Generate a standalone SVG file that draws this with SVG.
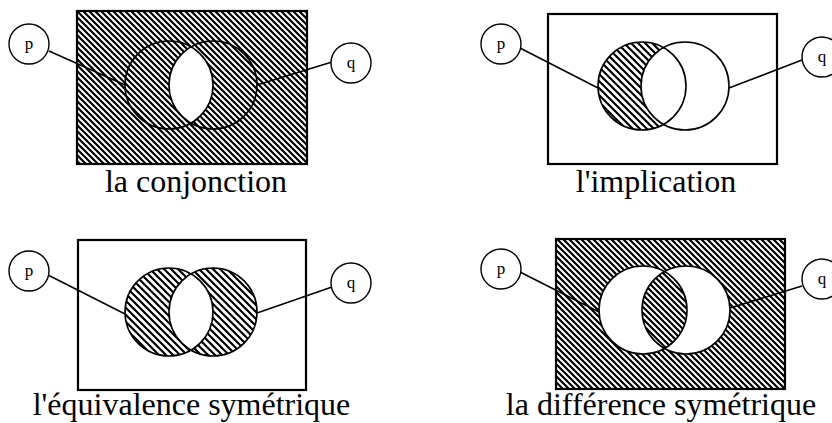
<svg xmlns="http://www.w3.org/2000/svg" width="832" height="423" viewBox="0 0 832 423">
<style>
.frame{stroke:#000;stroke-width:2.2}
.ring{fill:none;stroke:#000;stroke-width:1.6}
.tag{fill:#fff;stroke:#000;stroke-width:1.4}
.conn{stroke:#000;stroke-width:1.5;fill:none}
</style>
<defs>
<pattern id="dense" patternUnits="userSpaceOnUse" width="6" height="6">
<rect width="6" height="6" fill="#fff"/>
<path d="M-1,-1 L7,7 M-1,5 L1,7 M5,-1 L7,1" stroke="#000" stroke-width="2.2"/>
</pattern>
<pattern id="light" patternUnits="userSpaceOnUse" width="7" height="7">
<rect width="7" height="7" fill="#fff"/>
<path d="M-1,-1 L8,8 M-1,6 L1,8 M6,-1 L8,1" stroke="#000" stroke-width="2.2"/>
</pattern>
</defs>

<g id="conjonction">
<rect class="frame" x="77" y="11" width="230" height="153" fill="url(#dense)"/>
<path d="M191,46.9 A44,44 0 0 1 191,123.1 A44,44 0 0 1 191,46.9 Z" fill="#fff"/>
<circle class="ring" cx="169" cy="85" r="44"/>
<circle class="ring" cx="213" cy="85" r="44"/>
<text x="196" y="192" font-family="'Liberation Serif', serif" font-size="32" text-anchor="middle" fill="#000">la conjonction</text>
</g>

<g id="implication">
<rect class="frame" x="548" y="14" width="229" height="150" fill="#fff"/>
<path d="M663.5,47.6 A44,44 0 1 0 663.5,124.4 A44,44 0 0 1 663.5,47.6 Z" fill="url(#light)"/>
<circle class="ring" cx="642" cy="86" r="44"/>
<circle class="ring" cx="685" cy="86" r="44"/>
<text x="656" y="192" font-family="'Liberation Serif', serif" font-size="32" text-anchor="middle" fill="#000">l'implication</text>
</g>

<g id="equivalence">
<rect class="frame" x="78" y="240" width="228" height="150" fill="#fff"/>
<path d="M125,312 a44,44 0 1 0 88,0 a44,44 0 1 0 -88,0 Z M169,312 a44,44 0 1 0 88,0 a44,44 0 1 0 -88,0 Z" fill="url(#light)" fill-rule="evenodd"/>
<circle class="ring" cx="169" cy="312" r="44"/>
<circle class="ring" cx="213" cy="312" r="44"/>
<text x="191.5" y="415" font-family="'Liberation Serif', serif" font-size="32" text-anchor="middle" fill="#000">l'équivalence symétrique</text>
</g>

<g id="difference">
<rect class="frame" x="556" y="239" width="229" height="150" fill="url(#dense)"/>
<circle cx="643" cy="310" r="44" fill="#fff"/>
<circle cx="686" cy="310" r="44" fill="#fff"/>
<path d="M664.5,271.7 A44,44 0 0 1 664.5,348.3 A44,44 0 0 1 664.5,271.7 Z" fill="url(#dense)"/>
<circle class="ring" cx="643" cy="310" r="44"/>
<circle class="ring" cx="686" cy="310" r="44"/>
<text x="661" y="415" font-family="'Liberation Serif', serif" font-size="32" text-anchor="middle" fill="#000">la différence symétrique</text>
</g>

<g id="connectors">
<line class="conn" x1="49" y1="51" x2="125" y2="85"/>
<line class="conn" x1="332" y1="62" x2="257" y2="85"/>
<line class="conn" x1="520" y1="48" x2="598" y2="88"/>
<line class="conn" x1="802" y1="60" x2="729" y2="88"/>
<line class="conn" x1="48" y1="275" x2="125" y2="314"/>
<line class="conn" x1="332" y1="287" x2="257" y2="313"/>
<line class="conn" x1="520" y1="272" x2="599" y2="312"/>
<line class="conn" x1="802" y1="286" x2="730" y2="308"/>
</g>

<g id="tag-p1"><circle class="tag" cx="29" cy="44" r="20"/><text x="29" y="49" font-family="'Liberation Serif', serif" font-size="17" text-anchor="middle">p</text></g>
<g id="tag-q1"><circle class="tag" cx="351" cy="63" r="20"/><text x="351" y="68" font-family="'Liberation Serif', serif" font-size="17" text-anchor="middle">q</text></g>
<g id="tag-p2"><circle class="tag" cx="501" cy="44" r="20"/><text x="501" y="49" font-family="'Liberation Serif', serif" font-size="17" text-anchor="middle">p</text></g>
<g id="tag-q2"><circle class="tag" cx="822" cy="57" r="20"/><text x="822" y="62" font-family="'Liberation Serif', serif" font-size="17" text-anchor="middle">q</text></g>
<g id="tag-p3"><circle class="tag" cx="29" cy="271" r="20"/><text x="29" y="276" font-family="'Liberation Serif', serif" font-size="17" text-anchor="middle">p</text></g>
<g id="tag-q3"><circle class="tag" cx="351" cy="283" r="20"/><text x="351" y="288" font-family="'Liberation Serif', serif" font-size="17" text-anchor="middle">q</text></g>
<g id="tag-p4"><circle class="tag" cx="501" cy="269" r="20"/><text x="501" y="274" font-family="'Liberation Serif', serif" font-size="17" text-anchor="middle">p</text></g>
<g id="tag-q4"><circle class="tag" cx="822" cy="279" r="20"/><text x="822" y="284" font-family="'Liberation Serif', serif" font-size="17" text-anchor="middle">q</text></g>
</svg>
